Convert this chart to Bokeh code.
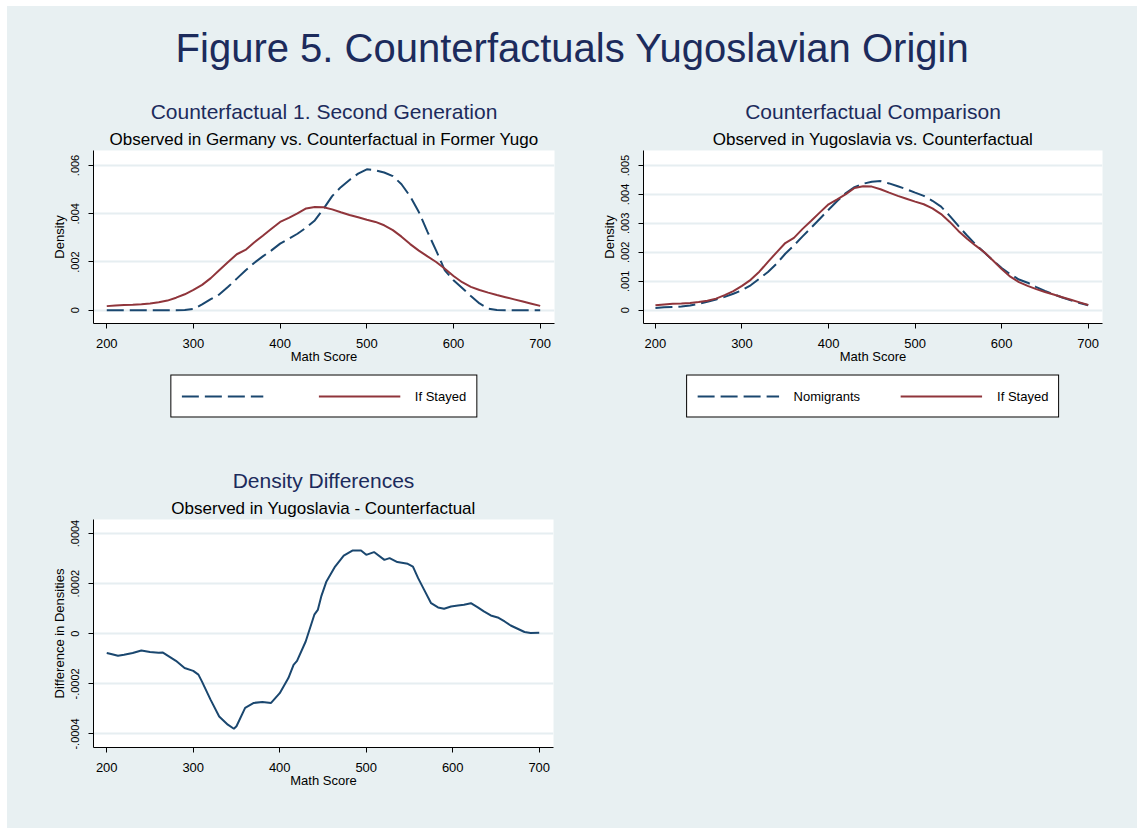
from bokeh.plotting import figure
from bokeh.models import Range1d, FixedTicker, Legend, LegendItem, Title
from bokeh.layouts import column, row
from bokeh.core.properties import value
from bokeh.embed import file_html
from bokeh.resources import INLINE

# ---------------- data ----------------
score = list(range(200, 701, 10))

germany_obs = [0, 0, 0, 0, 0, 0, 0, 0, 0, 0.00001,
               0.00005, 0.00024, 0.00046, 0.00066, 0.00097, 0.00131, 0.00165, 0.00196, 0.00223, 0.00248,
               0.00276, 0.00296, 0.00317, 0.00342, 0.00372, 0.00420, 0.00473, 0.00510, 0.00540, 0.00566,
               0.00584, 0.00580, 0.00571, 0.00556, 0.00522, 0.00472, 0.00407, 0.00325, 0.00247, 0.00165,
               0.00124, 0.00092, 0.00059, 0.00028, 0.00007, 0.00001, 0, 0, 0, 0, 0]

if_stayed = [0.00017, 0.00020, 0.00022, 0.00023, 0.00025, 0.00028, 0.00033, 0.00040, 0.00052, 0.00066,
             0.00084, 0.00105, 0.00133, 0.00167, 0.00200, 0.00232, 0.00250, 0.00281, 0.00309, 0.00338,
             0.00366, 0.00383, 0.00401, 0.00422, 0.00428, 0.00427, 0.00418, 0.00406, 0.00395, 0.00385,
             0.00375, 0.00366, 0.00352, 0.00332, 0.00305, 0.00274, 0.00247, 0.00223, 0.00200, 0.00172,
             0.00142, 0.00116, 0.00097, 0.00084, 0.00073, 0.00063, 0.00054, 0.00045, 0.00036, 0.00027,
             0.00018]

nomigrants = [0.00008, 0.00010, 0.00011, 0.00013, 0.00016, 0.00022, 0.00029, 0.00037, 0.00046, 0.00057,
              0.00069, 0.00086, 0.00109, 0.00132, 0.00161, 0.00195, 0.00224, 0.00255, 0.00285, 0.00316,
              0.00347, 0.00377, 0.00405, 0.00425, 0.00437, 0.00444, 0.00446, 0.00438, 0.00428, 0.00418,
              0.00406, 0.00395, 0.00378, 0.00358, 0.00326, 0.00291, 0.00258, 0.00227, 0.00199, 0.00172,
              0.00146, 0.00124, 0.00106, 0.00095, 0.00080, 0.00067, 0.00055, 0.00044, 0.00034, 0.00025,
              0.00017]

diff_score = [200, 205, 213, 220, 230, 240, 250, 260, 265, 270, 280, 290, 300, 306, 310, 320, 330, 340,
              347, 350, 360, 370, 380, 390, 400, 410, 416, 420, 430, 440, 444, 448, 454, 464, 474, 484,
              494, 500, 509, 521, 527, 536, 548, 554, 560, 567, 575, 583, 590, 598, 606, 613, 621, 629,
              636, 644, 652, 660, 667, 675, 683, 690, 700]
diff_density = [-0.000077, -0.000081, -0.000088, -0.000084, -0.000077, -0.000067, -0.000073, -0.000076,
                -0.000075, -0.000086, -0.000108, -0.000137, -0.000148, -0.000163, -0.000190, -0.000263,
                -0.000330, -0.000363, -0.000379, -0.000369, -0.000296, -0.000276, -0.000272, -0.000276,
                -0.000237, -0.000177, -0.000124, -0.000108, -0.000031, 0.000076, 0.000095, 0.000149,
                0.000209, 0.000268, 0.000312, 0.000332, 0.000332, 0.000315, 0.000326, 0.000295, 0.000302,
                0.000286, 0.000279, 0.000268, 0.000222, 0.000175, 0.000122, 0.000105, 0.000100, 0.000109,
                0.000113, 0.000116, 0.000122, 0.000105, 0.000089, 0.000073, 0.000065, 0.000049, 0.000033,
                0.000020, 0.000007, 0.000003, 0.000004]

x_ticks = [200, 300, 400, 500, 600, 700]
y_ticks_1 = [0, 0.002, 0.004, 0.006]
y_labels_1 = ["0", ".002", ".004", ".006"]
y_ticks_2 = [0, 0.001, 0.002, 0.003, 0.004, 0.005]
y_labels_2 = ["0", ".001", ".002", ".003", ".004", ".005"]
y_ticks_3 = [-0.0004, -0.0002, 0, 0.0002, 0.0004]
y_labels_3 = ["-.0004", "-.0002", "0", ".0002", ".0004"]

legend_labels_1 = ["", "If Stayed"]
legend_labels_2 = ["Nomigrants", "If Stayed"]

# ---------------- style ----------------
BG = "#e8f0f2"
GRID = "#e6eef1"
NAVY = "#1a476f"
MAROON = "#90353b"
TITLE_C = "#1c2b5c"
FONT = "Liberation Sans"
W = 1130
LW = 581
NAN = float("nan")


def panel(width, height, xr, yr, mbl, mbr, mbt, mbb, title, subtitle, ylabel, yt, yl):
    p = figure(width=width, height=height, x_range=Range1d(*xr), y_range=Range1d(*yr),
               output_backend="svg", toolbar_location=None,
               min_border_left=mbl, min_border_right=mbr, min_border_top=mbt, min_border_bottom=mbb)
    p.background_fill_color = "white"
    p.border_fill_color = BG
    p.outline_line_color = None
    p.xgrid.visible = False
    p.ygrid.grid_line_color = GRID
    p.ygrid.grid_line_width = 2
    p.ygrid.ticker = FixedTicker(ticks=yt)
    p.xaxis.ticker = FixedTicker(ticks=x_ticks)
    p.yaxis.ticker = FixedTicker(ticks=yt)
    p.yaxis.major_label_overrides = {t: s for t, s in zip(yt, yl)}
    p.yaxis.major_label_orientation = "vertical"
    for ax in (p.xaxis[0], p.yaxis[0]):
        ax.axis_line_color = "black"
        ax.axis_line_width = 1
        ax.major_tick_line_color = "black"
        ax.major_tick_in = 0
        ax.major_tick_out = 5
        ax.minor_tick_out = 0
        ax.minor_tick_in = 0
        ax.major_label_text_font = FONT
        ax.major_label_text_color = "black"
        ax.axis_label_text_font = FONT
        ax.axis_label_text_font_style = "normal"
        ax.axis_label_text_font_size = "13px"
        ax.axis_label_text_color = "black"
    p.xaxis.major_label_text_font_size = "13px"
    p.yaxis.major_label_text_font_size = "11px"
    p.xaxis.axis_label = "Math Score"
    p.yaxis.axis_label = ylabel
    p.xaxis.major_label_standoff = 10
    p.xaxis.axis_label_standoff = -2
    p.yaxis.major_label_standoff = 9
    p.yaxis.axis_label_standoff = 2
    p.add_layout(Title(text=subtitle, align="center", text_font=FONT, text_font_size="17px",
                       text_font_style="normal", text_color="black", standoff=4), "above")
    p.add_layout(Title(text=title, align="center", text_font=FONT, text_font_size="21px",
                       text_font_style="normal", text_color=TITLE_C, standoff=6), "above")
    return p


def legend_fig(width, mbl, mbr, labels, spacing):
    f = figure(width=width, height=70, x_range=Range1d(0, 1), y_range=Range1d(0, 1),
               x_axis_type=None, y_axis_type=None, output_backend="svg", toolbar_location=None,
               min_border_left=mbl, min_border_right=mbr, min_border_top=0, min_border_bottom=19)
    f.background_fill_color = BG
    f.border_fill_color = BG
    f.outline_line_color = None
    # legend-only renderers (no visible data)
    ra = f.line(x=[NAN], y=[NAN], line_color=NAVY, line_width=2, line_dash="17 6")
    rb = f.line(x=[NAN], y=[NAN], line_color=MAROON, line_width=2)
    leg = Legend(items=[LegendItem(label=value(labels[0]), renderers=[ra]),
                        LegendItem(label=value(labels[1]), renderers=[rb])],
                 orientation="horizontal", location="center",
                 glyph_width=82, glyph_height=21, label_standoff=15, spacing=spacing,
                 padding=10, margin=0,
                 label_text_font=FONT, label_text_font_size="13px", label_text_color="black",
                 border_line_color="black", border_line_width=1, border_line_alpha=1,
                 background_fill_color="white", background_fill_alpha=1)
    f.add_layout(leg)
    return f


# ---------------- main title ----------------
top = figure(width=W, height=86, x_range=Range1d(0, 1), y_range=Range1d(0, 1),
             x_axis_type=None, y_axis_type=None, output_backend="svg", toolbar_location=None,
             min_border_left=0, min_border_right=0, min_border_top=64, min_border_bottom=0)
top.background_fill_color = BG
top.border_fill_color = BG
top.outline_line_color = None
top.add_layout(Title(text="Figure 5. Counterfactuals Yugoslavian Origin", align="center",
                     text_font=FONT, text_font_size="40px", text_font_style="normal",
                     text_color=TITLE_C, standoff=2), "above")

# ---------------- panel 1 ----------------
p1 = panel(LW, 278, (184.7, 716.5), (-0.00055, 0.00662), 86, 34, 58, 47,
           "Counterfactual 1. Second Generation",
           "Observed in Germany vs. Counterfactual in Former Yugo",
           "Density", y_ticks_1, y_labels_1)
p1.line(score, germany_obs, line_color=NAVY, line_width=2, line_dash="17 6")
p1.line(score, if_stayed, line_color=MAROON, line_width=2)
l1 = legend_fig(LW, 86, 34, legend_labels_1, 20)

# ---------------- panel 2 ----------------
p2 = panel(W - LW, 278, (186.2, 716.5), (-0.000459, 0.005517), 55, 35, 58, 47,
           "Counterfactual Comparison",
           "Observed in Yugoslavia vs. Counterfactual",
           "Density", y_ticks_2, y_labels_2)
p2.line(score, nomigrants, line_color=NAVY, line_width=2, line_dash="17 6")
p2.line(score, if_stayed, line_color=MAROON, line_width=2)
l2 = legend_fig(W - LW, 55, 35, legend_labels_2, 40)

# ---------------- panel 3 ----------------
p3 = panel(LW, 388, (184.7, 716.5), (-0.000454, 0.000456), 86, 35, 79, 81,
           "Density Differences",
           "Observed in Yugoslavia - Counterfactual",
           "Difference in Densities", y_ticks_3, y_labels_3)
p3.line(diff_score, diff_density, line_color=NAVY, line_width=2)

blank = figure(width=W - LW, height=388, x_range=Range1d(0, 1), y_range=Range1d(0, 1),
               x_axis_type=None, y_axis_type=None, output_backend="svg", toolbar_location=None,
               min_border=0)
blank.background_fill_color = BG
blank.border_fill_color = BG
blank.outline_line_color = None

layout = column(top, row(column(p1, l1), column(p2, l2)), row(p3, blank),
                margin=(6, 0, 0, 7), styles={"background-color": BG})
html = file_html(layout, INLINE, title="Figure 5. Counterfactuals Yugoslavian Origin")
open("out.html", "w").write(html)
